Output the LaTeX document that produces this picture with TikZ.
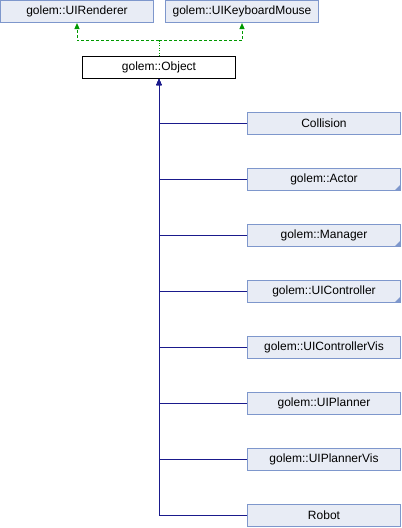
\documentclass[tikz,border=0pt]{standalone}
\usepackage{fontspec}
\setmainfont{Liberation Sans}
\usetikzlibrary{arrows.meta}
\definecolor{boxfill}{HTML}{E8ECF5}
\definecolor{boxline}{HTML}{7E97CC}
\definecolor{inhblue}{HTML}{1A1A8C}
\definecolor{usegreen}{HTML}{009900}
\tikzset{
  cls/.style={draw=boxline, fill=boxfill, line width=1pt, minimum width=153pt,
    minimum height=22pt, inner sep=0pt, font=\fontsize{12}{14}\selectfont},
  mainbox/.style={cls, draw=black, fill=white},
  inh/.style={draw=inhblue, line width=1pt, -{Triangle[width=5pt,length=6pt]}},
  iface/.style={draw=usegreen, line width=1pt, dashed, dash pattern=on 3pt off 2pt,
    -{Triangle[width=5pt,length=6pt]}},
  link/.style={draw=usegreen, line width=1pt, dash pattern=on 1pt off 1.5pt},
  corner/.style={path picture={\fill[boxline] (path picture bounding box.south east)
    -- ++(-6pt,0) -- ++(6pt,6pt) -- cycle;}}
}
\begin{document}
\begin{tikzpicture}[x=1pt,y=-1pt]
\useasboundingbox (0,0) rectangle (402,528);
\node[cls] (ren) at (77,11.5) {golem::UIRenderer};
\node[cls] (kbd) at (242,11.5) {golem::UIKeyboardMouse};
\node[mainbox] (obj) at (159,67.5) {golem::Object};

\node[cls] (c1) at (324,123.5) {Collision};
\node[cls,corner] (c2) at (324,179.5) {golem::Actor};
\node[cls,corner] (c3) at (324,235.5) {golem::Manager};
\node[cls,corner] (c4) at (324,291.5) {golem::UIController};
\node[cls] (c5) at (324,347.5) {golem::UIControllerVis};
\node[cls] (c6) at (324,403.5) {golem::UIPlanner};
\node[cls] (c7) at (324,459.5) {golem::UIPlannerVis};
\node[cls] (c8) at (324,515.5) {Robot};

% interfaces implemented by Object
\coordinate (j) at (159,40.5);
\draw[link] (obj.north) -- (j);
\draw[iface] (j) -| (ren.south);
\draw[iface] (j) -| (kbd.south);

% derived classes
\foreach \c in {c1,c2,c3,c4,c5,c6,c7,c8}
  \draw[inh] (\c.west) -| (obj.south);
\end{tikzpicture}
\end{document}
